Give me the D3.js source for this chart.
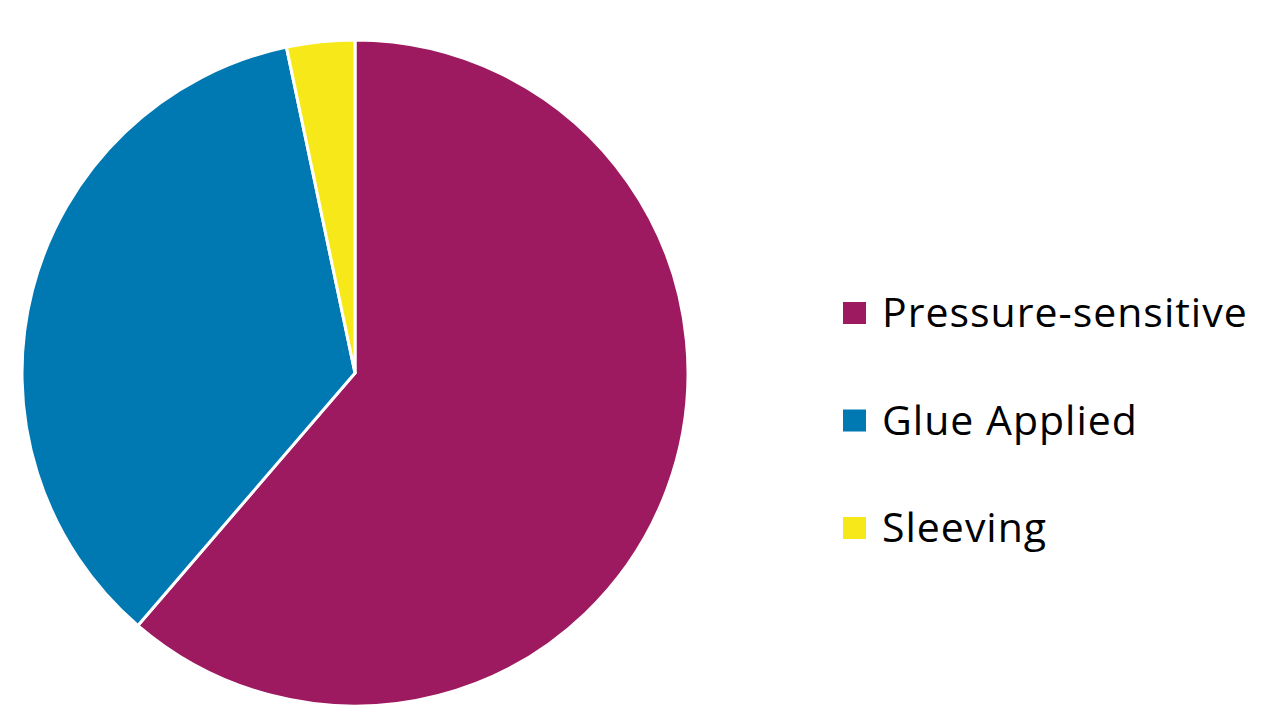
<!DOCTYPE html>
<html>
<head>
<meta charset="utf-8">
<script src="https://cdn.jsdelivr.net/npm/d3@7"></script>
<style>
  body { margin: 0; background: #fff; }
  svg { display: block; }
</style>
</head>
<body>
<div id="chart"></div>
<script>
const categories = ['Pressure-sensitive', 'Glue Applied', 'Sleeving'];
const values = [61.3, 35.4, 3.3];
const colors = ['#9d1a60', '#0078b2', '#f7e919'];

let width = 1280, height = 720;
let cx = 355, cy = 373, radius = 333;

let svg = d3.select('#chart').append('svg')
    .attr('width', width)
    .attr('height', height);

let color = d3.scaleOrdinal().domain(categories).range(colors);

let pie = d3.pie().sort(null).value(function(d) { return d.value; });
let arc = d3.arc().innerRadius(0).outerRadius(radius);

let data = categories.map(function(c, i) { return { key: c, value: values[i] }; });

svg.append('g')
    .attr('transform', 'translate(' + cx + ',' + cy + ')')
    .selectAll('path')
    .data(pie(data))
    .join('path')
    .attr('d', arc)
    .attr('fill', function(d) { return color(d.data.key); })
    .attr('stroke', '#fff')
    .attr('stroke-width', 3)
    .attr('stroke-linejoin', 'round');

// legend
let legendY = d3.scalePoint().domain(categories).range([313, 528]);

let legend = svg.append('g').selectAll('g')
    .data(categories)
    .join('g')
    .attr('transform', function(d) { return 'translate(843,' + legendY(d) + ')'; });

legend.append('rect')
    .attr('x', 0)
    .attr('y', -11)
    .attr('width', 23)
    .attr('height', 22)
    .attr('fill', function(d) { return color(d); });

legend.append('text')
    .attr('x', 39)
    .attr('y', 14)
    .attr('font-family', 'Open Sans, sans-serif')
    .attr('font-size', 41)
    .attr('letter-spacing', 1)
    .attr('fill', '#000')
    .text(function(d) { return d; });
</script>
</body>
</html>
